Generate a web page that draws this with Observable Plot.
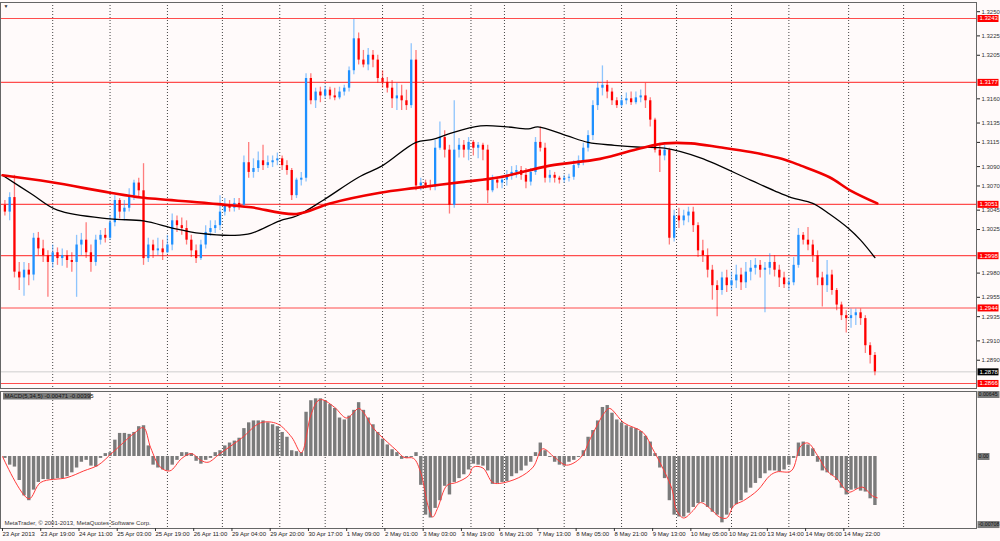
<!DOCTYPE html>
<html><head><meta charset="utf-8">
<script src="https://cdn.jsdelivr.net/npm/d3@7"></script>
<script src="https://cdn.jsdelivr.net/npm/@observablehq/plot@0.6"></script>
<style>
html,body{margin:0;padding:0;background:#fffafa;}
#chart{width:1000px;height:541px;overflow:hidden;background:#fffafa;}
#chart svg{display:block;overflow:visible;}
</style></head><body><div id="chart"></div>
<script>
// ---- data (2-hour candles) ----
const open = [1.3050,1.3043,1.3058,1.2981,1.2975,1.2983,1.2978,1.3016,1.3005,1.2998,
1.2991,1.3001,1.2995,1.2998,1.2993,1.2991,1.3009,1.3014,1.3001,1.2991,
1.3014,1.3019,1.3016,1.3032,1.3055,1.3043,1.3047,1.3060,1.3073,1.3065,
1.2995,1.3009,1.3003,1.3005,1.3001,1.3009,1.3034,1.3029,1.3026,1.3014,
1.3003,1.2995,1.3009,1.3022,1.3026,1.3029,1.3043,1.3050,1.3047,1.3052,
1.3050,1.3094,1.3084,1.3088,1.3096,1.3091,1.3094,1.3096,1.3098,1.3091,
1.3086,1.3060,1.3076,1.3078,1.3181,1.3158,1.3167,1.3163,1.3169,1.3163,
1.3161,1.3167,1.3171,1.3189,1.3222,1.3200,1.3195,1.3205,1.3200,1.3181,
1.3177,1.3171,1.3160,1.3163,1.3158,1.3153,1.3200,1.3070,1.3073,1.3070,
1.3069,1.3109,1.3120,1.3107,1.3050,1.3107,1.3112,1.3107,1.3115,1.3109,
1.3112,1.3107,1.3065,1.3076,1.3073,1.3076,1.3080,1.3084,1.3086,1.3081,
1.3074,1.3084,1.3115,1.3109,1.3078,1.3081,1.3078,1.3076,1.3078,1.3079,
1.3091,1.3096,1.3109,1.3122,1.3153,1.3171,1.3174,1.3167,1.3158,1.3153,
1.3158,1.3160,1.3156,1.3161,1.3163,1.3158,1.3138,1.3107,1.3101,1.3107,
1.3016,1.3039,1.3034,1.3039,1.3043,1.3029,1.3003,1.2998,1.2983,1.2967,
1.2962,1.2975,1.2967,1.2972,1.2978,1.2970,1.2981,1.2985,1.2988,1.2983,
1.2985,1.2991,1.2983,1.2975,1.2968,1.2970,1.2988,1.3019,1.3014,1.3009,
1.2998,1.2975,1.2967,1.2978,1.2962,1.2947,1.2936,1.2933,1.2936,1.2939,
1.2933,1.2905,1.2895];
const high = [1.3055,1.3063,1.3081,1.2991,1.2991,1.2990,1.3021,1.3022,1.3014,1.3003,
1.3009,1.3006,1.3005,1.3003,1.3001,1.3019,1.3021,1.3032,1.3009,1.3019,
1.3024,1.3026,1.3039,1.3060,1.3057,1.3055,1.3067,1.3076,1.3078,1.3093,
1.3016,1.3014,1.3016,1.3014,1.3019,1.3041,1.3039,1.3037,1.3034,1.3019,
1.3009,1.3014,1.3029,1.3034,1.3034,1.3060,1.3057,1.3055,1.3057,1.3057,
1.3101,1.3115,1.3098,1.3105,1.3112,1.3101,1.3101,1.3104,1.3101,1.3096,
1.3088,1.3078,1.3084,1.3186,1.3186,1.3171,1.3172,1.3173,1.3172,1.3171,
1.3172,1.3174,1.3193,1.3242,1.3228,1.3210,1.3212,1.3210,1.3205,1.3189,
1.3182,1.3179,1.3176,1.3174,1.3169,1.3217,1.3210,1.3078,1.3076,1.3076,
1.3117,1.3136,1.3127,1.3112,1.3158,1.3119,1.3117,1.3120,1.3117,1.3115,
1.3114,1.3112,1.3081,1.3079,1.3080,1.3086,1.3090,1.3091,1.3090,1.3088,
1.3088,1.3120,1.3131,1.3114,1.3086,1.3084,1.3080,1.3081,1.3082,1.3096,
1.3101,1.3114,1.3127,1.3158,1.3177,1.3194,1.3179,1.3171,1.3161,1.3163,
1.3166,1.3167,1.3167,1.3169,1.3176,1.3161,1.3140,1.3114,1.3112,1.3109,
1.3045,1.3047,1.3045,1.3048,1.3048,1.3032,1.3014,1.3005,1.2988,1.2972,
1.2981,1.2983,1.2981,1.2988,1.2985,1.2991,1.2993,1.2995,1.2993,1.2991,
1.3000,1.2998,1.2988,1.2981,1.2975,1.2996,1.3026,1.3022,1.3027,1.3014,
1.3003,1.2981,1.2993,1.2983,1.2964,1.2950,1.2941,1.2943,1.2943,1.2943,
1.2936,1.2908,1.2898];
const low = [1.3039,1.3034,1.2975,1.2962,1.2956,1.2967,1.2972,1.2998,1.2991,1.2955,
1.2985,1.2988,1.2987,1.2985,1.2981,1.2955,1.2998,1.2995,1.2981,1.2987,
1.3009,1.3011,1.3014,1.3028,1.3036,1.3034,1.3043,1.3055,1.3059,1.2988,
1.2991,1.2995,1.2998,1.2993,1.3000,1.3003,1.3022,1.3019,1.3009,1.2996,
1.2990,1.2993,1.3005,1.3018,1.3021,1.3024,1.3039,1.3043,1.3043,1.3045,
1.3047,1.3078,1.3078,1.3084,1.3086,1.3088,1.3089,1.3091,1.3086,1.3081,
1.3055,1.3057,1.3070,1.3074,1.3154,1.3150,1.3156,1.3160,1.3159,1.3158,
1.3159,1.3163,1.3167,1.3185,1.3195,1.3192,1.3189,1.3192,1.3176,1.3171,
1.3166,1.3150,1.3148,1.3148,1.3148,1.3150,1.3065,1.3065,1.3067,1.3065,
1.3065,1.3107,1.3099,1.3041,1.3047,1.3099,1.3099,1.3096,1.3101,1.3098,
1.3096,1.3052,1.3063,1.3067,1.3067,1.3070,1.3076,1.3078,1.3076,1.3067,
1.3070,1.3081,1.3105,1.3073,1.3073,1.3073,1.3072,1.3073,1.3074,1.3076,
1.3088,1.3091,1.3105,1.3117,1.3148,1.3163,1.3160,1.3153,1.3150,1.3151,
1.3154,1.3153,1.3154,1.3156,1.3150,1.3131,1.3104,1.3084,1.3096,1.3009,
1.3012,1.3026,1.3029,1.3032,1.3022,1.2996,1.2991,1.2975,1.2952,1.2935,
1.2957,1.2960,1.2962,1.2964,1.2962,1.2964,1.2972,1.2978,1.2975,1.2939,
1.2978,1.2976,1.2965,1.2964,1.2962,1.2967,1.2985,1.3009,1.3003,1.2991,
1.2967,1.2945,1.2960,1.2957,1.2941,1.2931,1.2918,1.2923,1.2926,1.2926,
1.2897,1.2886,1.2874];
const close = [1.3043,1.3058,1.2981,1.2975,1.2983,1.2978,1.3016,1.3005,1.2998,1.2991,
1.3001,1.2995,1.2998,1.2993,1.2991,1.3009,1.3014,1.3001,1.2991,1.3014,
1.3019,1.3016,1.3032,1.3055,1.3043,1.3047,1.3060,1.3073,1.3065,1.2995,
1.3009,1.3003,1.3005,1.3001,1.3009,1.3034,1.3029,1.3026,1.3014,1.3003,
1.2995,1.3009,1.3022,1.3026,1.3029,1.3043,1.3050,1.3047,1.3052,1.3050,
1.3094,1.3084,1.3088,1.3096,1.3091,1.3094,1.3096,1.3098,1.3091,1.3086,
1.3060,1.3076,1.3078,1.3181,1.3158,1.3167,1.3163,1.3169,1.3163,1.3161,
1.3167,1.3171,1.3189,1.3222,1.3200,1.3195,1.3205,1.3200,1.3181,1.3177,
1.3171,1.3160,1.3163,1.3158,1.3153,1.3200,1.3070,1.3073,1.3070,1.3069,
1.3109,1.3120,1.3107,1.3050,1.3107,1.3112,1.3107,1.3115,1.3109,1.3112,
1.3107,1.3065,1.3076,1.3073,1.3076,1.3080,1.3084,1.3086,1.3081,1.3074,
1.3084,1.3115,1.3109,1.3078,1.3081,1.3078,1.3076,1.3078,1.3079,1.3091,
1.3096,1.3109,1.3122,1.3153,1.3171,1.3174,1.3167,1.3158,1.3153,1.3158,
1.3160,1.3156,1.3161,1.3163,1.3158,1.3138,1.3107,1.3101,1.3107,1.3016,
1.3039,1.3034,1.3039,1.3043,1.3029,1.3003,1.2998,1.2983,1.2967,1.2962,
1.2975,1.2967,1.2972,1.2978,1.2970,1.2981,1.2985,1.2988,1.2983,1.2985,
1.2991,1.2983,1.2975,1.2968,1.2970,1.2988,1.3019,1.3014,1.3009,1.2998,
1.2975,1.2967,1.2978,1.2962,1.2947,1.2936,1.2933,1.2936,1.2939,1.2933,
1.2905,1.2895,1.2878];
const macdHist = [-0.0002,-0.0009,-0.0011,-0.0025,-0.0041,-0.0046,-0.0035,-0.0027,-0.0024,-0.0024,
-0.0024,-0.0023,-0.0023,-0.0021,-0.0017,-0.0012,-0.0006,-0.0004,-0.0010,-0.0011,
-0.0002,0.0003,0.0004,0.0017,0.0024,0.0024,0.0023,0.0025,0.0031,0.0032,
0.0011,-0.0009,-0.0012,-0.0014,-0.0015,-0.0009,-0.0004,0.0004,0.0004,0.0003,
-0.0005,-0.0008,-0.0004,-0.0002,0.0004,0.0006,0.0011,0.0014,0.0016,0.0019,
0.0029,0.0035,0.0037,0.0037,0.0037,0.0035,0.0033,0.0031,0.0025,0.0020,
0.0006,0.0005,0.0004,0.0046,0.0058,0.0060,0.0060,0.0058,0.0054,0.0050,
0.0040,0.0038,0.0042,0.0048,0.0056,0.0048,0.0040,0.0033,0.0025,0.0018,
0.0012,0.0007,0.0004,-0.0003,-0.0002,-0.0001,0.0004,-0.0030,-0.0061,-0.0064,
-0.0054,-0.0046,-0.0031,-0.0040,-0.0027,-0.0023,-0.0019,-0.0014,-0.0008,-0.0009,
-0.0010,-0.0015,-0.0029,-0.0028,-0.0027,-0.0026,-0.0021,-0.0018,-0.0015,-0.0010,
-0.0006,0.0004,0.0014,0.0006,-0.0001,-0.0006,-0.0009,-0.0010,-0.0006,-0.0004,
-0.0001,0.0006,0.0020,0.0027,0.0037,0.0051,0.0053,0.0045,0.0038,0.0035,
0.0032,0.0030,0.0029,0.0026,0.0021,0.0015,0.0003,-0.0012,-0.0023,-0.0046,
-0.0061,-0.0063,-0.0063,-0.0059,-0.0053,-0.0049,-0.0048,-0.0053,-0.0058,-0.0061,
-0.0069,-0.0061,-0.0054,-0.0050,-0.0046,-0.0038,-0.0033,-0.0028,-0.0023,-0.0018,
-0.0015,-0.0015,-0.0016,-0.0014,-0.0009,-0.0002,0.0014,0.0015,0.0012,0.0008,
-0.0006,-0.0015,-0.0017,-0.0020,-0.0025,-0.0033,-0.0040,-0.0035,-0.0034,-0.0036,
-0.0037,-0.0044,-0.0051];
// moving averages (hour index, price)
const maRedT = [0,20,45,58,83,95,104,123,137,158,173,192,208,229,250,267,277,288,300,313,326,334,346,355,366];
const maRedV = [1.3081,1.3074,1.3063,1.3058,1.3053,1.3050,1.3048,1.3041,1.3052,1.3063,1.3068,1.3074,1.3079,1.3091,1.3098,1.3109,1.3114,1.3114,1.3110,1.3105,1.3098,1.3091,1.3079,1.3065,1.3052];
const maBlackT = [0,12,23,45,59,72,83,97,104,116,123,134,149,159,173,180,187,200,211,220,224,236,245,256,267,277,292,313,323,330,339,346,354,359,365];
const maBlackV = [1.3081,1.3062,1.3045,1.3036,1.3034,1.3026,1.3021,1.3019,1.3021,1.3034,1.3039,1.3055,1.3079,1.3091,1.3115,1.3118,1.3124,1.3132,1.3131,1.3129,1.3131,1.3122,1.3115,1.3112,1.3110,1.3109,1.3099,1.3076,1.3065,1.3058,1.3052,1.3041,1.3026,1.3014,1.2996];
// MACD signal line (hour index, value)
const sigT = [0,11,16,27,34,40,46,55,59,62,66,70,75,79,83,86,91,100,108,115,121,125,129,132,134,139,144,149,151,155,161,165,168,172,175,178,180,182,186,190,195,197,201,205,208,216,222,226,231,236,242,246,252,254,260,268,272,275,280,282,285,289,292,296,300,303,306,310,316,321,324,330,334,337,341,345,349,354,358,360,364,366];
const sigV = [0.0000,-0.0044,-0.0027,-0.0022,-0.0015,-0.0009,0.0004,0.0024,0.0030,0.0009,-0.0011,-0.0015,-0.0002,0.0003,-0.0004,-0.0006,0.0003,0.0019,0.0035,0.0034,0.0020,0.0004,0.0043,0.0058,0.0059,0.0051,0.0040,0.0050,0.0046,0.0030,0.0015,0.0006,-0.0001,-0.0002,-0.0017,-0.0051,-0.0063,-0.0054,-0.0030,-0.0027,-0.0020,-0.0011,-0.0012,-0.0027,-0.0028,-0.0022,-0.0011,0.0008,-0.0001,-0.0009,-0.0001,0.0019,0.0046,0.0050,0.0035,0.0025,0.0008,-0.0006,-0.0033,-0.0056,-0.0064,-0.0056,-0.0048,-0.0054,-0.0063,-0.0064,-0.0051,-0.0046,-0.0035,-0.0020,-0.0016,-0.0015,0.0011,0.0014,0.0001,-0.0015,-0.0023,-0.0037,-0.0033,-0.0032,-0.0041,-0.0043];
const levels = [1.3243,1.3177,1.3051,1.2998,1.2944,1.2866];
const bid = 1.2878;
const yTicks = [1.3250,1.3225,1.3205,1.3160,1.3135,1.3115,1.3090,1.3070,1.3045,1.3025,1.2980,1.2955,1.2935,1.2910,1.2890];
const gridIdx = [21,45,69,92,116,135,159,176,196,210,235,259,282,305,329,354,377];
const timeLabels = ["23 Apr 2013","23 Apr 19:00","24 Apr 11:00","25 Apr 03:00","25 Apr 19:00","26 Apr 11:00","29 Apr 04:00","29 Apr 20:00","30 Apr 17:00","1 May 09:00","2 May 01:00","3 May 03:00","3 May 19:00","6 May 21:00","7 May 13:00","8 May 05:00","8 May 21:00","9 May 13:00","10 May 05:00","10 May 21:00","13 May 14:00","14 May 06:00","14 May 22:00"];
const macdLabel = "MACD(5,34,5) -0.00471 -0.00395";
const macdAxisVals = [0.00645, 0, -0.00708];
const macdAxisText = ["0.00645", "0.00", "-0.00708"];

// ---- derived tables ----
const candles = close.map((c, j) => ({t: 2 * j + 1, open: open[j], high: high[j], low: low[j], close: c}));
const hist = macdHist.map((v, j) => ({t: 2 * j + 1, v}));
const maRed = maRedT.map((t, i) => ({t, v: maRedV[i]}));
const maBlack = maBlackT.map((t, i) => ({t, v: maBlackV[i]}));
const sig = sigT.map((t, i) => ({t, v: sigV[i]}));
const timeTicks = timeLabels.map((s, k) => ({t: 16 * k, s}));

// ---- layout ----
const W = 1000, PR = 976;
const xDom = [-0.837, 407.5];
const pxToX = p => xDom[0] + p * (xDom[1] - xDom[0]) / PR;
const FONT = "Liberation Sans, Arial, sans-serif";
const BULL = "#1e90ff", BEAR = "#ff0000";
const col = d => d.close >= d.open ? BULL : BEAR;
const styleBase = {background: "none", fontFamily: FONT, fontSize: "6px", color: "#222", overflow: "visible"};

const main = Plot.plot({
  width: W, height: 390, marginLeft: 0, marginRight: W - PR, marginTop: 2, marginBottom: 2,
  x: {domain: xDom, axis: null},
  y: {domain: [1.28608, 1.32595], axis: null},
  style: styleBase,
  marks: [
    Plot.axisY({anchor: "right", ticks: yTicks, tickFormat: d => d.toFixed(4), tickSize: 3, tickPadding: 2, fontSize: 6, fill: "#333", label: null}),
    Plot.ruleX(gridIdx, {stroke: "#444", strokeDasharray: "1,2", strokeWidth: 1}),
    Plot.ruleY(levels, {stroke: "#ff4d4d", strokeWidth: 1.1}),
    Plot.ruleY([bid], {stroke: "#cfcfcf", strokeWidth: 1}),
    Plot.ruleX(candles, {x: "t", y1: "low", y2: "high", stroke: col, strokeOpacity: 0.5, strokeWidth: 1.3}),
    Plot.ruleX(candles, {x: "t", y1: "open", y2: "close", stroke: col, strokeWidth: 2.3}),
    Plot.line(maBlack, {x: "t", y: "v", stroke: "#000", strokeWidth: 1.3, curve: "catmull-rom"}),
    Plot.line(maRed, {x: "t", y: "v", stroke: "#f00000", strokeWidth: 2.6, curve: "catmull-rom"}),
    Plot.frame({stroke: "#666"}),
    Plot.ruleY(levels, {x1: pxToX(977.5), x2: pxToX(998.5), stroke: "#ff0000", strokeWidth: 7}),
    Plot.text(levels, {x: pxToX(979), y: d => d, text: d => d.toFixed(4), fill: "#fff", textAnchor: "start", fontSize: 6}),
    Plot.ruleY([bid], {x1: pxToX(977.5), x2: pxToX(998.5), stroke: "#000", strokeWidth: 7}),
    Plot.text([bid], {x: pxToX(979), y: d => d, text: d => d.toFixed(4), fill: "#fff", textAnchor: "start", fontSize: 6}),
    Plot.text(["▼"], {frameAnchor: "top-left", dx: 3, dy: 2, fontSize: 5, fill: "#333"})
  ]
});

const mTop = 1, mBottom = 13, mH = 151;
const mDom = [-0.00749, 0.00676];
const pyToV = s => mDom[1] - (s - mTop) * (mDom[1] - mDom[0]) / (mH - mTop - mBottom);

const macd = Plot.plot({
  width: W, height: mH, marginLeft: 0, marginRight: W - PR, marginTop: mTop, marginBottom: mBottom,
  x: {domain: xDom, axis: null},
  y: {domain: mDom, axis: null},
  style: styleBase,
  marks: [
    Plot.ruleX(gridIdx, {stroke: "#444", strokeDasharray: "1,2", strokeWidth: 1}),
    Plot.ruleX(hist, {x: "t", y1: 0, y2: "v", stroke: "#7b7b7b", strokeWidth: 3.4}),
    Plot.line(sig, {x: "t", y: "v", stroke: "#ff3b3b", strokeWidth: 1, curve: "catmull-rom"}),
    Plot.frame({stroke: "#666"}),
    Plot.ruleY([pyToV(5.5)], {x1: pxToX(3), x2: pxToX(91), stroke: "#7a7a7a", strokeWidth: 7}),
    Plot.text([macdLabel], {x: pxToX(4), y: pyToV(5.5), text: d => d, textAnchor: "start", fill: "#111", fontSize: 6}),
    Plot.text(["MetaTrader, © 2001-2013, MetaQuotes Software Corp."], {frameAnchor: "bottom-left", dx: 4, dy: -4, fill: "#333", fontSize: 6}),
    Plot.ruleY(macdAxisVals, {x1: pxToX(977.5), x2: (d, i) => pxToX(i === 1 ? 989.5 : 999.5), stroke: "#7a7a7a", strokeWidth: 7}),
    Plot.text(macdAxisVals, {x: pxToX(978), y: d => d, text: (d, i) => macdAxisText[i], fill: "#111", textAnchor: "start", fontSize: 5.3}),
    Plot.ruleX(timeTicks, {x: "t", y1: pyToV(mH - mBottom), y2: pyToV(mH - mBottom + 3), stroke: "#333"}),
    Plot.text(timeTicks, {x: "t", text: "s", frameAnchor: "bottom", dy: 7, dx: 0, textAnchor: "start", fill: "#222", fontSize: 6})
  ]
});

const root = document.getElementById("chart");
root.appendChild(main);
root.appendChild(macd);
</script></body></html>
